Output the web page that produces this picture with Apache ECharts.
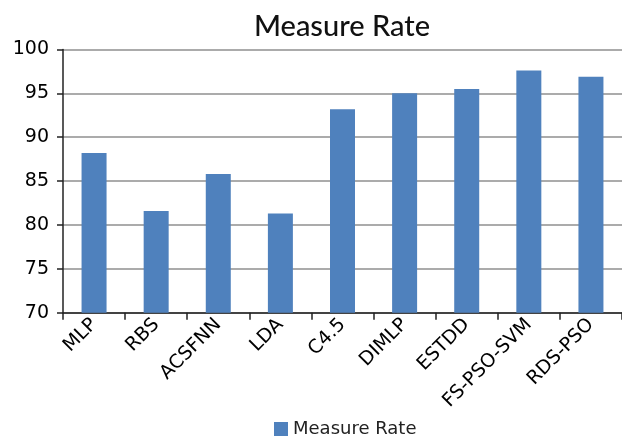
<!DOCTYPE html>
<html>
<head>
<meta charset="utf-8">
<script src="https://cdn.jsdelivr.net/npm/echarts@6/dist/echarts.min.js"></script>
<style>
  html, body { margin: 0; padding: 0; background: #fff; }
  #chart { width: 622px; height: 443px; }
</style>
</head>
<body>
<div id="chart"></div>
<script>
// Methods compared and their measured rate (%)
const methods = ['MLP', 'RBS', 'ACSFNN', 'LDA', 'C4.5', 'DIMLP', 'ESTDD', 'FS-PSO-SVM', 'RDS-PSO'];
const measureRate = [88.2, 81.6, 85.8, 81.3, 93.2, 95.0, 95.5, 97.6, 96.9];
const seriesName = 'Measure Rate';
const yMin = 70, yMax = 100, yStep = 5;

const chart = echarts.init(document.getElementById('chart'), null, { renderer: 'canvas' });
chart.setOption({
  animation: false,
  backgroundColor: '#ffffff',
  title: {
    text: 'Measure Rate',
    left: 337,
    textAlign: 'center',
    top: 7,
    textStyle: { fontFamily: 'Lato', fontSize: 29, fontWeight: 500, color: '#111' }
  },
  legend: {
    bottom: 0,
    left: 269,
    itemWidth: 14,
    itemHeight: 14,
    itemGap: 6,
    icon: 'rect',
    textStyle: { fontFamily: 'DejaVu Sans', fontSize: 18, color: '#222' },
    data: [seriesName]
  },
  grid: { left: 63, right: -7, top: 49.5, bottom: 130.3, containLabel: false },
  xAxis: {
    type: 'category',
    data: methods,
    axisLine: { lineStyle: { color: '#222', width: 1.5 } },
    axisTick: { show: true, alignWithLabel: false, length: 7, lineStyle: { color: '#222', width: 1.5 } },
    axisLabel: {
      rotate: 45,
      interval: 0,
      margin: 9,
      fontFamily: 'DejaVu Sans',
      fontSize: 19,
      color: '#000'
    }
  },
  yAxis: {
    type: 'value',
    min: yMin,
    max: yMax,
    interval: yStep,
    axisLine: { show: true, lineStyle: { color: '#222', width: 1.5 } },
    axisTick: { show: true, length: 6, lineStyle: { color: '#222', width: 1.5 } },
    axisLabel: { fontFamily: 'DejaVu Sans', fontSize: 19, color: '#000', margin: 14 },
    splitLine: { lineStyle: { color: '#8f8f8f', width: 1.5 } }
  },
  series: [{
    name: seriesName,
    type: 'bar',
    data: measureRate,
    barWidth: 25,
    itemStyle: { color: '#4f81bd' }
  }]
});
</script>
</body>
</html>
